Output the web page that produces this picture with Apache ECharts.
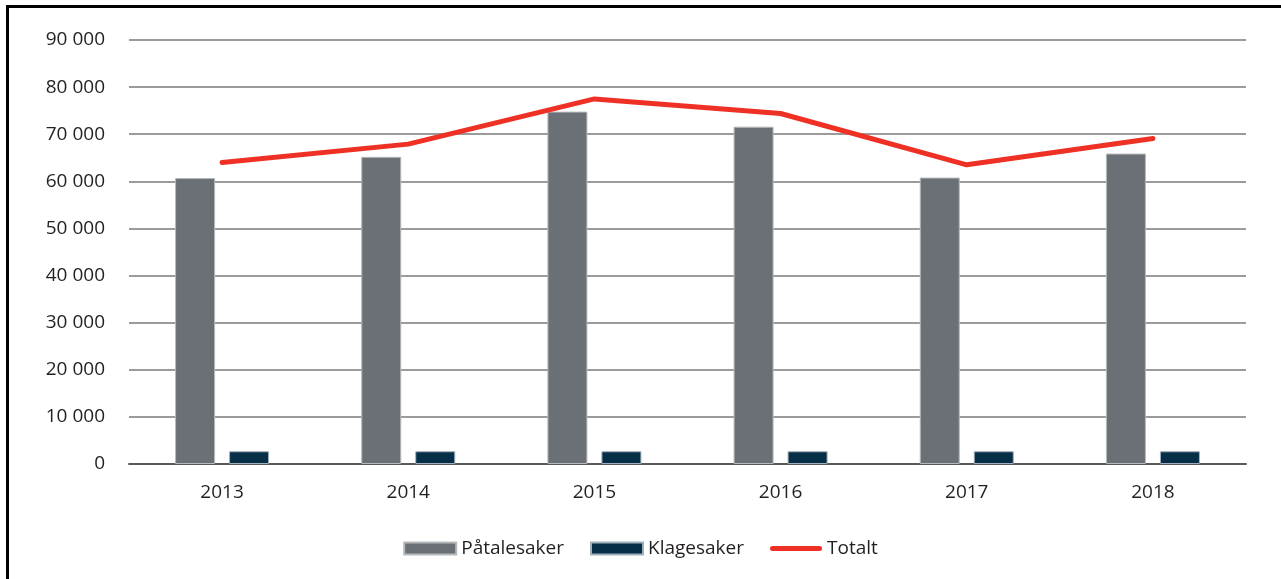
<!DOCTYPE html>
<html>
<head>
<meta charset="utf-8">
<script src="https://cdn.jsdelivr.net/npm/echarts@6/dist/echarts.min.js"></script>
<style>
    html, body { margin: 0; padding: 0; background: #fff; }
    #frame {
        position: absolute; left: 6px; top: 5px; right: 0; bottom: 0;
        border-top: 3px solid #000; border-left: 3px solid #000;
    }
    #chart { position: absolute; left: 0; top: 0; width: 1281px; height: 579px; }
</style>
</head>
<body>
<div id="frame"></div>
<div id="chart"></div>
<script>
var years = ['2013', '2014', '2015', '2016', '2017', '2018'];
var patalesaker = [60700, 65200, 74800, 71600, 60800, 65900];
var klagesaker = [2700, 2700, 2700, 2700, 2700, 2700];
var totalt = [64000, 67900, 77500, 74400, 63500, 69100];

var font = '"Open Sans", "Noto Sans", sans-serif';
var chart = echarts.init(document.getElementById('chart'));

var option = {
    animation: false,
    textStyle: { fontFamily: font },
    grid: { left: 129, right: 35, top: 40, bottom: 115, containLabel: false },
    legend: {
        bottom: 16,
        left: 'center',
        itemWidth: 52,
        itemHeight: 12,
        itemGap: 26,
        symbolKeepAspect: true,
        textStyle: { fontSize: 19, color: '#231f20', fontFamily: font },
        data: [
            { name: 'Påtalesaker', icon: 'rect' },
            { name: 'Klagesaker', icon: 'rect' },
            { name: 'Totalt', icon: 'path://M2.5,0 L49.5,0 A2.5,2.5 0 0 1 49.5,5 L2.5,5 A2.5,2.5 0 0 1 2.5,0 Z' }
        ]
    },
    xAxis: {
        type: 'category',
        data: years,
        axisTick: { show: false },
        axisLine: { lineStyle: { color: '#5a5a5a', width: 2 } },
        axisLabel: { fontSize: 19, color: '#231f20', margin: 19 }
    },
    yAxis: {
        type: 'value',
        min: 0,
        max: 90000,
        interval: 10000,
        axisLine: { show: false },
        axisTick: { show: false },
        splitLine: { lineStyle: { color: '#7a7a7a', width: 1.5 } },
        axisLabel: {
            fontSize: 19,
            color: '#231f20',
            margin: 24,
            formatter: function (val) {
                if (val >= 1000) {
                    return Math.floor(val / 1000) + ' 000';
                }
                return val;
            }
        }
    },
    series: [{
        name: 'Påtalesaker',
        type: 'bar',
        data: patalesaker,
        barWidth: 40,
        barGap: '35%',
        itemStyle: { color: '#6a7075', borderColor: '#b5b9bc', borderWidth: 1 }
    }, {
        name: 'Klagesaker',
        type: 'bar',
        data: klagesaker,
        barWidth: 40,
        itemStyle: { color: '#062e47', borderColor: '#9fb0bb', borderWidth: 1 }
    }, {
        name: 'Totalt',
        type: 'line',
        data: totalt,
        symbol: 'none',
        lineStyle: { color: '#ee3124', width: 5, cap: 'round', join: 'round' },
        itemStyle: { color: '#ee3124' }
    }]
};
chart.setOption(option);
</script>
</body>
</html>
